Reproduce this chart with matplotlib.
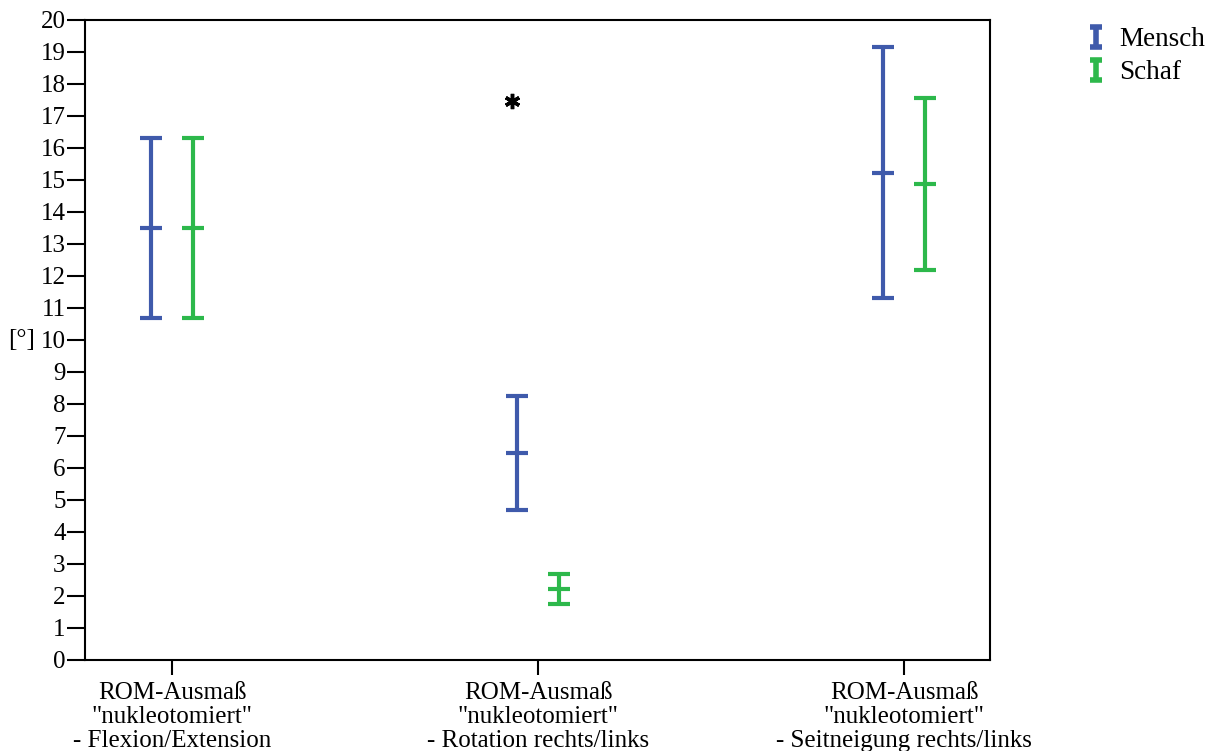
import numpy as np
import matplotlib.pyplot as plt
from matplotlib.container import ErrorbarContainer
from matplotlib.legend_handler import HandlerErrorbar
from matplotlib.lines import Line2D

plt.rcParams['font.family'] = ['Liberation Serif', 'DejaVu Serif']

categories = ['ROM-Ausmaß\n"nukleotomiert"\n- Flexion/Extension',
              'ROM-Ausmaß\n"nukleotomiert"\n- Rotation rechts/links',
              'ROM-Ausmaß\n"nukleotomiert"\n- Seitneigung rechts/links']
# mean and 95% CI bounds
mensch_mean = [13.5, 6.47, 15.22]
mensch_low = [10.7, 4.69, 11.31]
mensch_high = [16.3, 8.25, 19.16]
schaf_mean = [13.5, 2.22, 14.88]
schaf_low = [10.7, 1.75, 12.19]
schaf_high = [16.3, 2.69, 17.56]
outlier_group = [1]
outlier_value = [17.47]

blue = '#3f5aab'
green = '#2db84b'

fig = plt.figure(figsize=(12.15, 7.51), dpi=100)
ax = fig.add_axes([0.07, 0.1212, 0.745, 0.8522])

index = np.arange(len(categories))
off = 0.057

def draw(xs, mean, low, high, color, label):
    mean = np.array(mean)
    yerr = [mean - np.array(low), np.array(high) - mean]
    eb = ax.errorbar(xs, mean, yerr=yerr, fmt='none', ecolor=color,
                     elinewidth=3, capsize=8, capthick=3, label=label)
    ax.plot(xs, mean, linestyle='none', marker='_', markersize=16,
            markeredgewidth=3, color=color)
    return eb

draw(index - off, mensch_mean, mensch_low, mensch_high, blue, 'Mensch')
draw(index + off, schaf_mean, schaf_low, schaf_high, green, 'Schaf')

# outlier marked with an asterisk
ax.plot(np.array(outlier_group) - off - 0.015, outlier_value, linestyle='none',
        marker=(6, 2, 0), markersize=11, markeredgewidth=2.5, color='black')

ax.set_xlim(-0.238, 2.235)
ax.set_ylim(0, 20)
ax.set_yticks(range(0, 21))
ax.set_xticks(index)
ax.set_xticklabels(categories, fontsize=18, linespacing=1.1)
ax.tick_params(axis='y', direction='out', length=13, width=1.5, labelsize=18, pad=1)
ax.tick_params(axis='x', direction='out', length=11, width=1.5, pad=5)
for s in ax.spines.values():
    s.set_linewidth(1.5)

ax.set_ylabel('[°]', rotation=0, fontsize=18, va='center')
ax.yaxis.set_label_coords(-0.070, 0.5)


def small_caps(handle, orig):
    handle.update_from(orig)
    if isinstance(handle, Line2D):
        handle.set_markersize(9)
        handle.set_markeredgewidth(4)
    else:
        handle.set_linewidth(4)


ax.legend(loc='upper left', bbox_to_anchor=(1062 / 1215, 1 - 3 / 751),
          bbox_transform=fig.transFigure, frameon=False, fontsize=19.5,
          handlelength=0.7, handletextpad=0.5, labelspacing=0.3,
          handler_map={ErrorbarContainer: HandlerErrorbar(yerr_size=0.36,
                                                          update_func=small_caps)})

fig.savefig('out.png', dpi=100)
